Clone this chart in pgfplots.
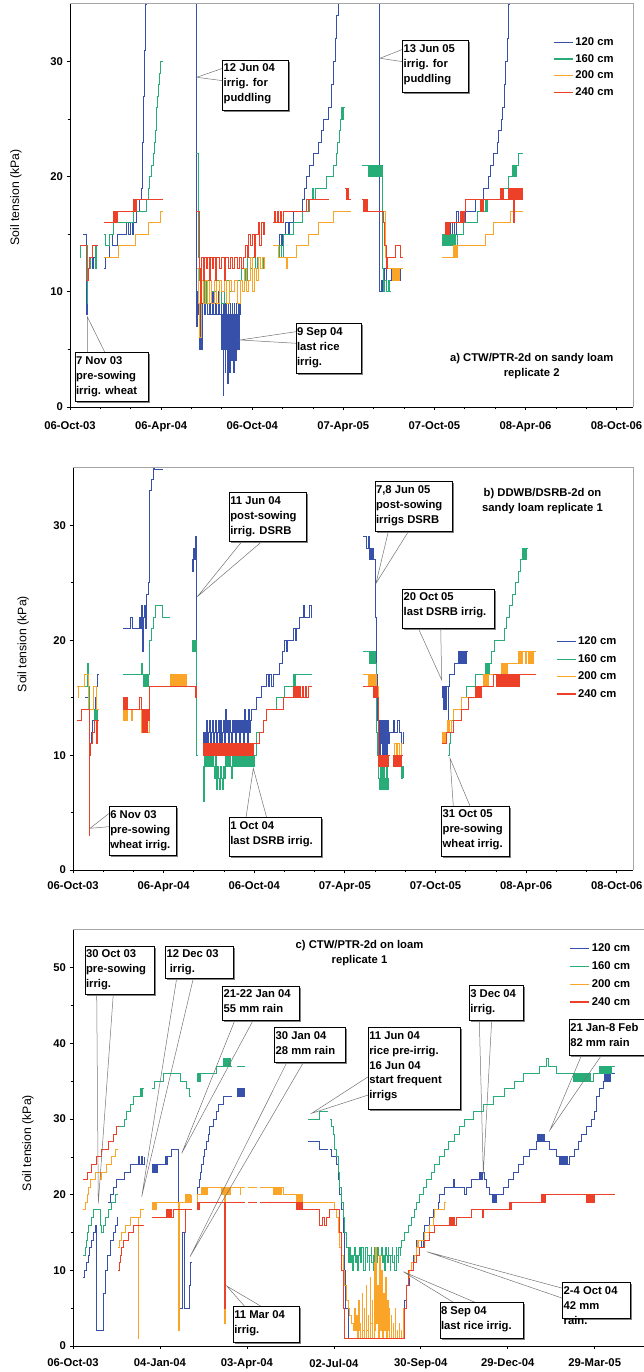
\documentclass[border=0pt]{standalone}
\usepackage{fontspec}
\setmainfont{Liberation Sans}
\usepackage{pgfplots}
\pgfplotsset{compat=1.18}
\definecolor{cblue}{RGB}{55,80,170}
\definecolor{cgreen}{RGB}{40,172,120}
\definecolor{corange}{RGB}{250,165,40}
\definecolor{cred}{RGB}{236,64,40}
\newcommand{\bfont}{\fontsize{11.3}{15}\selectfont\bfseries}
\pgfplotsset{
  soilpanel/.style={
    scale only axis, anchor=south west,
    axis x line*=bottom, axis y line*=left,
    axis line style={black, line width=0.8bp},
    tick align=outside,
    major tick length=3.5bp, minor tick length=2.3bp,
    tick style={black, line width=0.7bp},
    tick label style={font=\bfont},
    /pgf/number format/assume math mode=true,
    xmin=0, ymin=0,
    minor y tick num=1,
    ylabel={Soil tension (kPa)},
    ylabel style={font=\fontsize{12.3}{14}\selectfont, anchor=center},
    legend style={draw=none, fill=none, font=\bfont, inner sep=0pt, cells={anchor=west}},
    legend image code/.code={\draw[#1, line width=1.2bp] (0bp,0bp) -- (19bp,0bp);},
  },
  s/.style={const plot, mark=none, line width=0.9bp, forget plot},
}
\newcommand{\cbox}[5]{%
  \fill[black!50] ({#1+1.6},{1372-#2-1.6}) rectangle ({#1+#3+1.6},{1372-#2-#4-1.6});
  \filldraw[fill=white, draw=black, line width=0.7bp] (#1,{1372-#2}) rectangle ({#1+#3},{1372-#2-#4});
  \node[anchor=north west, inner sep=0pt, align=left, font=\bfont] at ({#1+0.8},{1372-#2-3.8}) {#5};}
\newcommand{\cpt}[6]{\draw[black!55, line width=0.5bp] (#1,{1372-#2}) -- (#5,{1372-#6}) -- (#3,{1372-#4});}
\begin{document}
\begin{tikzpicture}[x=1bp,y=1bp]
% ================= Panel a =================
\begin{axis}[soilpanel, at={(70bp,965bp)}, width=563bp, height=403bp,
  xmax=1131, ymax=35, ytick={0,10,20,30},
  xtick={0,183,366,549,732,915,1098}, minor x tick num=2,
  xticklabels={06-Oct-03,06-Apr-04,06-Oct-04,07-Apr-05,07-Oct-05,08-Apr-06,08-Oct-06},
  xticklabel style={yshift=-8bp},
  ylabel style={at={(axis description cs:-0.096,0.52)}},
  legend style={at={(rel axis cs:0.858,0.922)}, anchor=north west, row sep=3.4bp}]
% 120 cm
\addplot[s,cblue] coordinates {(26,15) (34,8) (35,10) (36,11) (38,12) (41,13) (45,12) (48,13) (51,14) (57,14)};
\addplot[s,cblue] coordinates {(68,12) (72,13) (80,15) (85,14) (96,15) (113,16) (118,15) (121,16) (125,15) (128,16) (134,17) (140,18) (143,19) (145,21) (146,23) (147,25) (148,27) (149,29) (150,31) (151,33) (152,35) (153,38) (155,38)};
\addplot[s,cblue] coordinates {(253,40) (254,10) (255,7) (257,10) (259,8) (261,5) (263,10) (265,5) (267,9) (270,8) (273,10) (276,8) (280,9) (283,8) (286,10) (289,8) (292,9) (295,8) (298,10) (301,8) (304,9) (305,5) (306,8) (307,5) (307.5,1) (308,6) (309,9) (310,5) (311,8) (312,3) (312.5,6) (313,9) (314,5) (315,8) (316,5) (317,2) (317.5,7) (318,9) (319,5) (320,8) (321,3) (321.5,6) (322,9) (323,5) (324,8) (325,4) (325.5,7) (326,9) (327,5) (328,8) (329,3) (329.5,6) (330,9) (331,5) (332,8) (333,4) (333.5,6) (334,9) (335,5) (336,8) (337,5) (338,9) (340,5) (341,8) (342,10) (344,10)};
\addplot[s,cblue] coordinates {(419,13) (421,15) (424,14) (427,15) (432,16) (438,15) (441,16) (449,17) (466,18) (470,19) (475,20) (482,21) (489,22) (499,23) (506,24) (510,25) (519,26) (526,28) (530,30) (533,32) (536,34) (540,36) (542,36)};
\addplot[s,cblue] coordinates {(621,40) (622,10) (625,11) (628,10) (632,12) (635,10) (640,11) (645,12) (650,11) (655,12) (660,11) (664,12) (669,12)};
\addplot[s,cblue] coordinates {(747,14) (751,15) (755,14) (758,16) (764,15) (768,16) (773,15) (777,17) (780,16) (790,16) (794,17) (814,18) (831,19) (841,20) (845,21) (851,22) (858,23) (861,24) (866,25) (869,26) (872,28) (875,30) (878,32) (881,35) (883,38) (885,38)};
% 160 cm
\addplot[s,cgreen] coordinates {(20,13) (21,14) (35,9) (36,11) (38,12) (42,13) (46,14) (52,12) (54,14) (57,14)};
\addplot[s,cgreen] coordinates {(68,15) (72,14) (80,15) (88,16) (127,17) (153,18) (157,19) (160,20) (163,21) (167,22) (169,23) (171,24) (173,26) (175,27) (177,28) (179,29) (181,30) (186,30)};
\addplot[s,cgreen] coordinates {(253,22) (258,13) (260,11) (262,9) (265,11) (270,9) (275,11) (285,10) (295,11) (305,9) (310,11) (320,10) (330,11) (340,11) (345,12) (352,11) (357,13) (362,12) (367,13) (372,12) (377,13) (382,12) (388,13) (392,13)};
\addplot[s,cgreen] coordinates {(419,13) (421,14) (424,13) (429,15) (449,16) (466,17) (482,18) (488,19) (490,18) (494,19) (516,20) (530,21) (536,22) (538,23) (541,24) (543,25) (546,26) (548,25) (550,26) (553,26)};
\addplot[s,cgreen] coordinates {(587,21) (600,20) (602,21) (604,20) (606,21) (608,20) (610,21) (612,20) (614,21) (616,20) (618,21) (620,20) (622,21) (624,20) (626,21) (627,16) (628,12) (629,10) (632,11) (636,10) (640,11) (642,10) (643,10)};
\addplot[s,cgreen] coordinates {(747,14) (749,15) (751,14) (753,15) (755,14) (757,15) (759,14) (761,15) (763,14) (765,15) (767,14) (769,15) (771,14) (773,15) (775,14) (778,15) (791,16) (818,17) (834,18) (836,17) (838,18) (865,19) (867,18) (869,19) (881,20) (888,21) (890,20) (892,21) (894,20) (896,21) (898,21) (901,22) (910,22)};
% 200 cm
\addplot[s,corange] coordinates {(68,13) (97,14) (131,15) (157,16) (181,17) (186,17)};
\addplot[s,corange] coordinates {(255,12) (258,9) (261,6) (264,11) (268,9) (272,11) (276,9) (281,11) (285,9) (290,11) (295,9) (300,11) (305,10) (310,11) (315,9) (320,11) (325,10) (330,11) (336,9) (342,11) (346,10) (350,12) (354,10) (358,11) (362,13) (366,10) (370,12) (374,11) (378,13) (382,12) (386,13) (390,12) (392,12)};
\addplot[s,corange] coordinates {(408,14) (419,13) (434,12) (436,13) (455,14) (479,15) (499,16) (530,17) (564,17)};
\addplot[s,corange] coordinates {(587,18) (597,17) (630,17) (633,13) (636,12) (643,12) (647,11) (649,12) (651,11) (653,12) (655,11) (657,12) (660,11) (662,12) (669,12)};
\addplot[s,corange] coordinates {(747,13) (771,14) (773,13) (775,14) (777,13) (779,14) (834,15) (851,16) (885,17) (910,17)};
% 240 cm
\addplot[s,cred] coordinates {(20,14) (34,11) (37,12) (40,13) (46,14) (57,14)};
\addplot[s,cred] coordinates {(68,16) (87,17) (89,16) (91,17) (93,16) (95,17) (127,18) (129,17) (131,18) (133,17) (134,18) (186,18)};
\addplot[s,cred] coordinates {(253,17) (260,15) (261,12) (263,9) (265,13) (268,11) (271,13) (274,12) (277,13) (280,11) (283,13) (286,12) (289,13) (292,11) (295,13) (300,12) (305,13) (310,11) (313,13) (318,12) (322,13) (326,12) (330,13) (336,12) (340,13) (344,12) (348,13) (352,14) (356,13) (358,15) (362,14) (366,15) (370,13) (373,15) (378,16) (381,14) (384,16) (388,15) (390,16) (392,16)};
\addplot[s,cred] coordinates {(408,16) (410,17) (413,16) (416,17) (419,16) (422,17) (425,16) (428,17) (475,18) (478,17) (480,18) (520,18)};
\addplot[s,cred] coordinates {(553,19) (556,18) (558,19) (560,18) (564,18)};
\addplot[s,cred] coordinates {(587,18) (589,17) (591,18) (593,17) (595,18) (597,17) (630,16) (632,14) (635,12) (638,13) (654,14) (664,13) (669,13)};
\addplot[s,cred] coordinates {(754,15) (755,16) (756,15) (757,16) (758,15) (759,16) (760,15) (761,16) (762,15) (763,16) (764,16) (784,17) (786,16) (788,17) (790,16) (792,17) (794,18) (825,17) (827,18) (829,17) (831,18) (865,19) (867,18) (869,19) (871,18) (881,19) (883,18) (885,19) (887,18) (889,19) (891,16) (892,19) (894,18) (896,19) (898,18) (900,19) (902,18) (904,19) (906,18) (908,19) (910,19)};
\addlegendimage{cblue}\addlegendentry{120 cm}
\addlegendimage{cgreen}\addlegendentry{160 cm}
\addlegendimage{corange}\addlegendentry{200 cm}
\addlegendimage{cred}\addlegendentry{240 cm}
\end{axis}
% ================= Panel b =================
\begin{axis}[soilpanel, at={(73bp,502bp)}, width=560bp, height=402bp,
  xmax=1131, ymax=35, ytick={0,10,20,30},
  xtick={0,183,366,549,732,915,1098}, minor x tick num=2,
  xticklabels={06-Oct-03,06-Apr-04,06-Oct-04,07-Apr-05,07-Oct-05,08-Apr-06,08-Oct-06},
  xticklabel style={yshift=-5bp},
  ylabel style={at={(axis description cs:-0.089,0.562)}},
  legend style={at={(rel axis cs:0.862,0.585)}, anchor=north west, row sep=4.1bp}]
% 120 cm
\addplot[s,cblue] coordinates {(24,15) (31,14) (34,11) (37,12) (40,13) (44,14) (46,15) (48,16) (50,17) (53,17)};
\addplot[s,cblue] coordinates {(101,21) (117,22) (120,21) (134,22) (137,21) (139,23) (141,19) (142,22) (144,23) (146,21) (148,24) (152,25) (155,33) (158,34) (163,35) (165,34.9) (182,34.9)};
\addplot[s,cblue] coordinates {(239.5,27) (240.5,26) (241.5,27) (242.5,26) (243.5,27) (244.2,28) (246.2,27) (247,28) (248.2,29) (249.6,10) (250.9,10)};
\addplot[s,cblue] coordinates {(263,12) (264,10) (266,12) (268,11) (270,13) (272,10) (274,12) (276,13) (278,11) (280,12) (282,13) (284,10) (286,12) (288,13) (290,11) (292,12) (294,13) (296,11) (298,13) (300,10) (302,12) (304,13) (306,11) (308,14) (310,12) (312,13) (314,11) (316,13) (318,12) (320,10) (322,13) (324,12) (326,13) (328,11) (330,13) (332,12) (334,13) (336,11) (338,13) (340,12) (342,13) (344,11) (346,14) (348,12) (350,13) (352,11) (354,14) (356,12) (358,13) (360,14) (364,14) (370,15) (380,16) (390,17) (395,16) (397,17) (401,16) (404,17) (417,18) (424,19) (428,20) (431,19) (433,20) (445,21) (450,20) (452,21) (458,22) (465,23) (467,22) (478,23) (481,22) (482,22)};
\addplot[s,cblue] coordinates {(586,29) (593,28) (596,29) (598.5,27) (600,28) (602,27) (604,28) (606.6,27) (610,25) (611,22) (612,17) (614,13) (616,11) (617,13) (618,10) (619,13) (620,10) (621,13) (622,11) (623,13) (624,10) (625,13) (626,10) (627,13) (628,11) (629,13) (630,10) (632,13) (634,10) (636,13) (638,11) (640,12) (647,13) (650,12) (655,13) (660,12) (664,11) (667,12)};
\addplot[s,cblue] coordinates {(744.5,15) (746,16) (748,14) (750,16) (753,14) (755,16) (758,12) (759,16) (761,17) (771,18) (778,19) (781,18) (783,19) (785,18) (787,19) (789,18) (791,19) (793,18) (795,19) (796,19)};
% 160 cm
\addplot[s,cgreen] coordinates {(8.6,16) (27,16) (29,18) (31,16) (34,14) (41,14) (44,13) (46,14) (48,13) (50,14) (53,14)};
\addplot[s,cgreen] coordinates {(101,17) (135,17) (138,18) (141,17) (143,16) (145,17) (147,16) (149,17) (151,16) (153,17) (155,20) (158,21) (163,22) (167,23) (181,22) (196,22)};
\addplot[s,cgreen] coordinates {(239.5,19) (240.5,20) (241.5,19) (242.5,20) (243.5,19) (244.5,20) (245.5,19) (246.5,20) (247.5,19) (248.5,20) (249.6,10) (250.9,10)};
\addplot[s,cgreen] coordinates {(263,9) (264,6) (266,10) (268,9) (270,10) (272,9) (274,10) (276,9) (278,10) (280,9) (282,10) (284,9) (286,8) (288,10) (290,7) (292,9) (294,8) (296,7) (298,9) (300,8) (302,7) (304,9) (306,8) (308,10) (310,9) (312,10) (314,9) (316,10) (318,9) (320,8) (322,10) (324,9) (326,10) (328,9) (330,10) (332,9) (334,10) (336,9) (338,10) (340,9) (342,10) (344,9) (346,10) (348,9) (350,10) (352,9) (354,10) (356,9) (358,10) (360,9) (362,10) (364,9) (367,10) (371,12) (384,13) (391,14) (411,15) (428,16) (445,17) (447,16) (449,17) (451,17) (482,17)};
\addplot[s,cgreen] coordinates {(586,19) (598,18) (600,19) (602,18) (604,19) (606,18) (608,19) (610,18) (612,15) (613,12) (615,10) (617,8) (618,7) (620,9) (622,7) (624,10) (626,7) (628,9) (630,8) (632,7) (634,9) (636,7) (637,8)};
\addplot[s,cgreen] coordinates {(663,9) (664,8) (665,9) (667,8)};
\addplot[s,cgreen] coordinates {(758,10) (760,11) (762,12) (764,13) (768,14) (785,15) (795,16) (812,17) (832,18) (835,17) (837,18) (839,17) (841,18) (845,19) (852,20) (872,21) (876,22) (882,23) (888,24) (893,25) (899,26) (904,27) (908,28) (910,27) (912,28) (914,27) (916,28) (919,28)};
% 200 cm
\addplot[s,corange] coordinates {(8.6,16) (10,15) (12,16) (24,17) (31,14) (41,16) (47,14) (53,14)};
\addplot[s,corange] coordinates {(101,13) (102,14) (104,13) (106,14) (108,13) (110,14) (118,13) (121,14) (138,12) (141,14) (143,12) (145,13) (147,12) (155,16) (196,17) (198,16) (200,17) (202,16) (204,17) (206,16) (208,17) (210,16) (212,17) (214,16) (216,17) (218,16) (220,17) (222,16) (224,17) (226,16) (228,17) (229.4,16) (250,16)};
\addplot[s,corange] coordinates {(263,10) (265,11) (267,10) (269,11) (272,10) (274,11) (277,10) (280,11) (283,10) (286,11) (290,10) (293,11) (296,10) (300,11) (303,10) (306,11) (310,10) (313,11) (316,10) (320,11) (323,10) (326,11) (330,10) (333,11) (336,10) (340,11) (343,10) (346,11) (350,10) (353,11) (356,10) (360,11) (364,11)};
\addplot[s,corange] coordinates {(586,17) (596,16) (598,17) (600,16) (602,17) (604,16) (606,17) (608,16) (610,17) (612,16) (616,10) (618,9) (620,10) (622,9) (624,10) (626,9) (628,10) (630,9) (632,10) (634,9) (636,10) (640,10)};
\addplot[s,corange] coordinates {(647,10) (650,11) (653,10) (656,11) (660,10) (664,11) (667,11)};
\addplot[s,corange] coordinates {(744.5,11) (746,12) (748,11) (750,12) (752,11) (754,12) (756,13) (758,12) (760,13) (764,12) (768,14) (785,15) (812,16) (828,17) (830,16) (832,17) (834,16) (836,17) (838,16) (840,17) (845,17) (866,18) (868,17) (870,18) (872,17) (874,18) (876,17) (878,18) (882,18) (899,19) (901,18) (903,19) (905,18) (907,19) (913,18) (916,19) (920,18) (922,19) (924,18) (926,19) (928,18) (930,19) (933,19) (936,19)};
% 240 cm
\addplot[s,cred] coordinates {(8.6,13) (17,14) (32,14) (32.5,3) (33,10) (36,11) (40,12) (43,13) (47,11) (50,13) (53,13)};
\addplot[s,cred] coordinates {(101,15) (102,14) (104,15) (106,14) (108,15) (110,14) (115,14) (135,15) (138,14) (140,12) (142,14) (144,12) (146,14) (148,12) (150,14) (152,13) (155,16) (247,16) (247.5,15) (249,16) (250.9,16)};
\addplot[s,cred] coordinates {(263,10) (264,11) (266,10) (267,11) (269,10) (270,11) (272,10) (273,11) (275,10) (276,11) (278,10) (279,11) (281,10) (282,11) (284,10) (285,11) (287,10) (288,11) (290,10) (291,11) (293,10) (294,11) (296,10) (297,11) (299,10) (300,11) (302,10) (303,11) (305,10) (306,11) (308,10) (309,11) (311,10) (312,11) (314,10) (315,11) (317,10) (318,11) (320,10) (321,11) (323,10) (324,11) (326,10) (327,11) (329,10) (330,11) (332,10) (333,11) (335,10) (336,11) (338,10) (339,11) (341,10) (342,11) (344,10) (345,11) (347,10) (348,11) (350,10) (351,11) (353,10) (354,11) (356,10) (357,11) (359,10) (360,11) (362,10) (364,11) (377,12) (384,13) (391,14) (425,15) (445,16) (447,15) (449,16) (451,15) (453,16) (455,15) (457,16) (460,15) (463,16) (466,15) (469,16) (472,15) (475,16) (482,16)};
\addplot[s,cred] coordinates {(586,16) (606,15) (608,16) (610,15) (612,16) (614,15) (616,10) (617,9) (619,10) (620,9) (622,10) (623,9) (625,10) (626,9) (628,10) (629,9) (631,10) (632,9) (634,10) (635,9) (637,10) (640,10)};
\addplot[s,cred] coordinates {(647,9) (648,10) (650,9) (651,10) (653,9) (655,10) (657,9) (659,10) (661,9) (663,10) (667,10)};
\addplot[s,cred] coordinates {(744.5,11) (755,12) (768,13) (785,14) (798,15) (812,16) (814,15) (816,16) (818,15) (820,16) (822,15) (824,16) (835,16) (849,17) (855,16) (857,17) (859,16) (861,17) (863,16) (865,17) (867,16) (869,17) (871,16) (873,17) (875,16) (877,17) (879,16) (881,17) (883,16) (885,17) (887,16) (889,17) (891,16) (893,17) (895,16) (897,17) (899,16) (901,17) (936,17)};
\addlegendimage{cblue}\addlegendentry{120 cm}
\addlegendimage{cgreen}\addlegendentry{160 cm}
\addlegendimage{corange}\addlegendentry{200 cm}
\addlegendimage{cred}\addlegendentry{240 cm}
\end{axis}
% ================= Panel c =================
\begin{axis}[soilpanel, at={(73bp,26bp)}, width=571bp, height=416bp,
  xmax=591, ymax=55, ytick={0,10,20,30,40,50},
  xtick={0,90,180,270,360,450,540},
  xticklabels={06-Oct-03,04-Jan-04,03-Apr-04,02-Jul-04,30-Sep-04,29-Dec-04,29-Mar-05},
  xticklabel style={yshift=-6bp},
  ylabel style={at={(axis description cs:-0.079,0.488)}},
  legend style={at={(rel axis cs:0.8695,0.972)}, anchor=north west, row sep=4.5bp}]
% 120 cm
\addplot[s,cblue] coordinates {(10.7,9) (11.5,10) (13.5,11) (15.9,12) (17,13) (19.3,14) (21,15) (22.8,16) (24.5,2) (31.4,7) (33.1,9) (34.1,10) (36,12) (38.3,14) (41.7,15) (43.5,16) (45.9,17) (47,17)};
\addplot[s,cblue] coordinates {(36.6,19) (38.3,20) (41.7,21) (45.2,22) (52.8,23) (59,24) (67.6,25) (69,24) (70.5,25) (72,24) (73.5,25)};
\addplot[s,cblue] coordinates {(81.4,23) (82.2,24) (83,23) (83.8,24) (84.6,23) (85.4,24) (86.2,23) (87,24) (95.2,25) (96.5,24) (98,25) (102.1,26) (109,5) (113,15) (115,5) (121,8) (122,11) (122.8,11)};
\addplot[s,cblue] coordinates {(127.9,20) (129,21) (130.7,22) (132,23) (133.1,24) (135,25) (136.5,26) (138,27) (140,28) (141.7,29) (145.2,30) (148.6,31) (150.5,32) (155.5,33) (164.1,33)};
\addplot[s,cblue] coordinates {(169.3,33) (170,34) (171,33) (172,34) (173,33) (174,34) (175,33) (176,34) (177,33) (177.9,34)};
\addplot[s,cblue] coordinates {(243.4,27) (255.5,26) (264.1,26)};
\addplot[s,cblue] coordinates {(265.8,26) (267.6,25) (272.7,24) (274.5,22) (276.2,20) (277.9,18) (279.6,15) (281.4,10) (282.4,5) (284.8,1) (341.7,5) (343.4,6) (345.1,8) (348.6,10) (352,12) (355.5,14) (360.7,13) (362.4,15) (364.1,16) (369.3,17) (372.7,18) (377.9,19) (379.6,20) (384.8,21) (394,22) (395.1,21) (403.8,21) (405.5,20) (407.2,21) (412.4,22) (420.3,23) (421,22) (422,23) (423,22) (424,23) (426.2,22) (427.9,21) (431.3,20) (433.8,19) (434.5,20) (435.5,19) (436.5,20) (437.6,19) (438,20) (445.1,21) (450.3,22) (455.5,23) (460.7,24) (465.8,25) (472.7,26) (479.6,27) (480.5,28) (481.5,27) (482.5,28) (483.5,27) (484.5,28) (485.5,27) (486.5,28) (488,27) (493.4,26) (500.3,25) (503.8,24) (505,25) (506,24) (507,25) (508,24) (509,25) (510,24) (511,25) (512,24) (514.1,25) (519.3,26) (522.7,27) (526.2,28) (531.3,29) (536.5,30) (540,31) (541.7,33) (545.1,34) (548.6,35) (550,36) (551,35) (552,36) (553,35) (554,36) (555,35) (556,36) (558.9,36) (560.6,36)};
% 160 cm
\addplot[s,cgreen] coordinates {(10.7,12) (12.4,13) (13.5,14) (14.8,15) (16,16) (19.3,17) (21,18) (27.9,16) (29.7,15) (31.4,16) (34.1,17) (36.6,18) (40,19) (43.5,20) (46.9,20)};
\addplot[s,cgreen] coordinates {(47.6,29) (52.8,30) (55.5,31) (59,32) (62.4,33) (69.3,34) (70,33) (70.7,34) (71.4,33) (72.1,34) (73.5,34)};
\addplot[s,cgreen] coordinates {(81.4,34) (83.8,35) (93.4,36) (110.7,35) (117.6,34) (120.3,33) (121.7,33)};
\addplot[s,cgreen] coordinates {(127.9,35) (128.5,36) (129,35) (129.5,36) (130,35) (130.5,36) (131,35) (131.5,36) (148.6,37) (153.8,37) (155.5,38) (156.3,37) (157.1,38) (157.9,37) (158.7,38) (159.5,37) (160.3,38) (161.1,37) (161.9,38) (162.7,37) (164.1,37)};
\addplot[s,cgreen] coordinates {(169.3,37) (177.9,37)};
\addplot[s,cgreen] coordinates {(243.4,30) (255.5,31) (264.1,31)};
\addplot[s,cgreen] coordinates {(265.8,30) (267.6,29) (269.3,28) (271,26) (272.7,25) (274.5,23) (276.2,21) (277.9,19) (279.6,17) (281.4,15) (283.1,13) (285,11) (286.5,13) (287,11) (288.5,12) (289,10) (290.5,12) (291,13) (292.5,11) (293,12) (294.5,10) (295,12) (296.5,13) (297,11) (298.5,12) (299,13) (300.5,11) (301,10) (302.5,12) (303,13) (304.5,11) (305,12) (306.5,10) (307,12) (308.5,13) (309,11) (310.5,12) (311,10) (312.5,13) (313,12) (314.5,11) (315,13) (316.5,12) (317,10) (318.5,12) (319,13) (320.5,11) (321,12) (322.5,10) (323,13) (324.5,12) (325,11) (326.5,13) (327,12) (328.5,10) (329,12) (330.5,13) (331,11) (332.5,12) (333,10) (334.5,13) (335,12) (336.5,11) (337,13) (338.5,12) (339,13) (340,14) (343.4,15) (346.9,16) (350.3,17) (353.8,18) (355.5,19) (358.9,20) (362.4,21) (365.8,22) (371,23) (374.5,24) (379.6,25) (384.8,26) (388.3,27) (395.1,28) (400.3,29) (405.5,30) (414.1,31) (424.4,32) (434.8,33) (446.9,34) (457.2,35) (465.8,36) (483.1,37) (490,38) (491.7,37) (500.3,36) (517.5,35) (518.5,36) (519.5,35) (520.5,36) (521.5,35) (522.5,36) (523.5,35) (524.5,36) (525.5,35) (526.5,36) (527.5,35) (528.5,36) (529.5,35) (530.5,36) (531.5,35) (532.5,36) (533.5,35) (534.5,36) (535.5,35) (538.2,36) (545.1,37) (546,36) (547,37) (548,36) (549,37) (550,36) (551,37) (552,36) (553,37) (554,36) (555,37) (556,36) (557,37) (560.6,37)};
% 200 cm
\addplot[s,corange] coordinates {(10.7,18) (12.4,19) (14.8,20) (15.9,21) (17.6,22) (22.8,23) (27.9,22) (29.7,23) (34.8,24) (40,25) (43.5,26) (46.9,26)};
\addplot[s,corange] coordinates {(46.9,13) (48,14) (50.4,15) (53.8,16) (59,17) (67.4,1) (68.2,17) (69.3,18) (73.5,18)};
\addplot[s,corange] coordinates {(81.4,18) (82,19) (83,18) (84,19) (85,18) (86,19) (109,2) (110,19) (116,20) (116.8,19) (117.6,20) (118.4,19) (119.2,20) (120,19) (120.8,20) (121.6,19) (122.8,20)};
\addplot[s,corange] coordinates {(127.9,19) (129,20) (133.1,21) (134,20) (135,21) (136,20) (137,21) (138,20) (139,21) (153.8,20) (154.6,21) (155.4,20) (156.2,21) (157.2,3) (157.8,21) (158.5,20) (159.3,21) (160.1,20) (160.9,21) (161.7,20) (162.5,21) (172.8,20) (173.6,21) (177.9,21)};
\addplot[s,corange] coordinates {(181.4,21) (190,21)};
\addplot[s,corange] coordinates {(193.4,21) (207.2,20) (208,21) (209,20) (210,21) (211,20) (212,21) (213,20) (214,21) (215,20) (216,21) (217.6,20) (231.4,19) (232,20) (233,19) (234,20) (235,19) (236,20) (237,19) (238.3,19) (271,18) (272.7,17) (274.5,15) (276.2,13) (277.9,12) (279.6,10) (281.4,8) (283.1,6) (284.8,5) (286.5,4) (288.3,3) (290,2) (291.5,5) (292,2) (293.5,4) (294,1) (295.5,6) (296,2) (297.5,3) (298,1) (299.5,7) (300,2) (301.5,5) (302,1) (303.5,8) (304,2) (305.5,4) (306,1) (307.5,9) (308,3) (309.5,6) (310,1) (311.5,11) (312,2) (313.5,13) (314,3) (315.5,8) (316,1) (317.5,12) (318,2) (319.5,10) (320,1) (321.5,7) (322,2) (323.5,9) (324,1) (325.5,6) (326,2) (327.5,5) (328,1) (329.5,4) (330,1) (331.5,3) (332,1) (333.5,5) (334,1) (335.5,2) (336,1) (337.5,3) (338,1) (339.5,2) (340,1) (341,1) (341.7,5) (345.1,8) (346.9,9) (348.6,10) (350.3,11) (353.8,12) (355.5,13) (356.3,14) (357.1,13) (357.9,14) (360.7,14) (364.1,15) (369.3,16) (372.7,17) (374.5,18) (384.8,19) (386,19)};
% 240 cm
\addplot[s,cred] coordinates {(10.7,22) (14.8,23) (19.3,24) (24.5,25) (29.7,26) (36.6,27) (41.7,28) (45.2,29) (47.6,29)};
\addplot[s,cred] coordinates {(46.9,10) (48,11) (48.6,12) (50.4,13) (52.1,14) (57.2,15) (62.4,16) (73.5,16)};
\addplot[s,cred] coordinates {(81.4,17) (96.9,18) (97.5,17) (98.5,18) (99.5,17) (100.5,18) (101.5,17) (103.8,18) (115.9,15) (116.4,18) (122.8,18)};
\addplot[s,cred] coordinates {(127.9,18) (128.5,19) (129,18) (129.5,19) (130,18) (130.7,19) (157.2,5) (157.8,19) (177.9,19)};
\addplot[s,cred] coordinates {(181.4,19) (190,19)};
\addplot[s,cred] coordinates {(193.4,19) (231.4,18) (232,19) (233,18) (234,19) (235,18) (236,19) (237,18) (238.3,18) (255.5,16) (258,17) (260,16) (262,17) (265.8,18) (276.2,15) (277.9,10) (279.6,5) (281.4,1) (343.4,5) (345.1,8) (346.9,10) (352,11) (355.5,12) (358.9,13) (364.1,14) (369.3,15) (374.5,16) (390,17) (391,16) (392,17) (393,16) (394,17) (395,16) (396.9,17) (412.4,18) (424,17) (424.6,18) (452,19) (452.5,18) (453,19) (453.5,18) (454,19) (484.8,20) (485.5,19) (486.2,20) (486.9,19) (487.6,20) (488.3,19) (489,20) (531.3,19) (532,20) (533,19) (534,20) (535,19) (536,20) (537,19) (538,20) (539,19) (540,20) (543.4,20) (560.6,20)};
\addlegendimage{cblue}\addlegendentry{120 cm}
\addlegendimage{cgreen}\addlegendentry{160 cm}
\addlegendimage{corange}\addlegendentry{200 cm}
\addlegendimage{cred}\addlegendentry{240 cm}
\end{axis}
% ---------- plot-area borders ----------
\draw[black!35, line width=1bp] (70,1368) -- (633,1368) -- (633,965);
\draw[black!35, line width=1bp] (73,904) -- (633,904) -- (633,502);
\draw[black!35, line width=1bp] (73,442) -- (644,442);
% ---------- titles ----------
\node[align=center, font=\bfont] at (531.7,{1372-366.5}) {a) CTW/PTR-2d on sandy loam\\replicate 2};
\node[align=center, font=\bfont] at (542.5,{1372-500.8}) {b) DDWB/DSRB-2d on\\sandy loam replicate 1};
\node[align=center, font=\bfont] at (359.5,{1372-953.5}) {c) CTW/PTR-2d on loam\\replicate 1};
% ---------- callouts panel a ----------
\cpt{222.7}{68.3}{222.7}{80.7}{196.7}{77.3}
\cbox{222.7}{60}{65.6}{50.7}{12 Jun 04\\irrig. for\\puddling}
\cpt{87.3}{352.7}{105}{352.7}{87.3}{316.7}
\cbox{75}{352.7}{73.3}{49}{7 Nov 03\\pre-sowing\\irrig. wheat}
\cpt{296}{331.7}{296}{343.3}{240}{340}
\cbox{296}{323.3}{65.7}{50}{9 Sep 04\\last rice\\irrig.}
\cpt{402.7}{49.3}{402.7}{61.7}{380}{58.3}
\cbox{402.7}{40.7}{65.6}{52}{13 Jun 05\\irrig. for\\puddling}
% ---------- callouts panel b ----------
\cpt{109.3}{813.3}{109.3}{826.7}{90}{828.3}
\cbox{109.3}{806.7}{66.7}{48.3}{6 Nov 03\\pre-sowing\\wheat irrig.}
\cpt{241.7}{541.7}{261.7}{541.7}{197.3}{596.7}
\cbox{229.3}{492.7}{77.4}{49}{11 Jun 04\\post-sowing\\irrig. DSRB}
\cpt{246}{817.7}{266.7}{817.7}{253.3}{768.3}
\cbox{229.3}{817.7}{91.7}{38.3}{1 Oct 04\\last DSRB irrig.}
\cpt{388.3}{531.7}{408.3}{531.7}{376}{583.3}
\cbox{375}{481.7}{77.3}{50}{7,8 Jun 05\\post-sowing\\irrigs DSRB}
\cpt{418.3}{628.3}{440.7}{628.3}{441.7}{680}
\cbox{402.7}{589}{91.6}{39.3}{20 Oct 05\\last DSRB irrig.}
\cpt{453.3}{806}{470}{806}{450}{758.3}
\cbox{441.7}{806}{67.3}{50}{31 Oct 05\\pre-sowing\\wheat irrig.}
% ---------- callouts panel c ----------
\cpt{96.7}{994}{113.3}{994}{98.3}{1203.3}
\cbox{85}{946}{69}{48}{30 Oct 03\\pre-sowing\\irrig.}
\cpt{176.7}{978.3}{193.3}{978.3}{141.7}{1196.7}
\cbox{165.7}{946}{67.6}{32.3}{12 Dec 03\\\hspace{0.28em}irrig.}
\cpt{235}{1020}{253.3}{1020}{181.7}{1153.3}
\cbox{222.7}{986}{76.3}{34}{21-22 Jan 04\\55 mm rain}
\cpt{286.7}{1062.7}{303.3}{1062.7}{190}{1256.7}
\cbox{274.7}{1027.7}{70.3}{35}{30 Jan 04\\28 mm rain}
\cpt{245}{1306.7}{261.7}{1306.7}{226.7}{1286}
\cbox{233.3}{1306.7}{66}{35.6}{11 Mar 04\\irrig.}
\cpt{368.3}{1076.7}{368.3}{1095}{311.7}{1113.3}
\cbox{368.3}{1027.3}{91.7}{81.7}{11 Jun 04\\rice pre-irrig.\\16 Jun 04\\start frequent\\irrigs}
\cpt{479.3}{1020}{491.7}{1020}{483.3}{1173.3}
\cbox{469.3}{985.7}{54}{34.3}{3 Dec 04\\irrig.}
\cpt{581.7}{1055}{601.7}{1055}{550}{1130}
\cbox{569.3}{1019.3}{76}{35.7}{21 Jan-8 Feb\\82 mm rain}
\cpt{453.3}{1302.3}{475}{1302.3}{403.3}{1271.7}
\cbox{440}{1302.3}{83.3}{36}{8 Sep 04\\last rice irrig.}
\cpt{562.7}{1288.3}{562.7}{1298.3}{426.7}{1251.7}
\cbox{562.7}{1282.7}{68}{35.6}{2-4 Oct 04\\42 mm\\rain.}
\pgfresetboundingbox
\path[use as bounding box] (0,0) rectangle (644,1372);
\end{tikzpicture}
\end{document}
